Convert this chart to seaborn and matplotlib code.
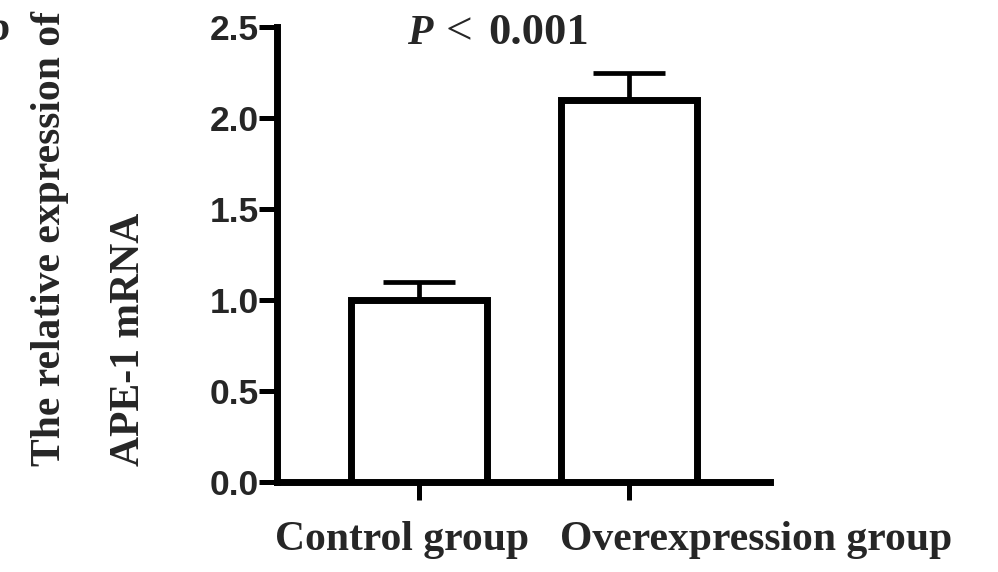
import matplotlib
matplotlib.use("Agg")
import matplotlib.pyplot as plt
import matplotlib.transforms as mtransforms
import seaborn as sns
import pandas as pd

# Data
groups = ["Control group", "Overexpression group"]
means = [1.0, 2.10]
sem = [0.10, 0.15]
y_ticks = [0.0, 0.5, 1.0, 1.5, 2.0, 2.5]
y_tick_labels = ["0.0", "0.5", "1.0", "1.5", "2.0", "2.5"]
y_label_lines = ["The relative expression of", "APE-1 mRNA"]
p_symbol = "P"
p_relation = "<"
p_value = "0.001"
panel_letter = "b"

sns.set_theme(style="ticks")
plt.rcParams["font.family"] = ["Liberation Serif", "DejaVu Serif"]

fig = plt.figure(figsize=(9.98, 5.72), dpi=100)
ax = fig.add_axes([0.2776, 0.1573, 0.494, 0.7955])

df = pd.DataFrame({"group": groups, "value": means})
sns.barplot(data=df, x="group", y="value", ax=ax, color="white",
            saturation=1, edgecolor="black", linewidth=5, width=0.65,
            errorbar=None, zorder=3)

# upper-only SEM whiskers, tucked behind the white bars
ax.errorbar(x=range(len(groups)), y=means, yerr=[[0] * len(sem), sem],
            fmt="none", ecolor="black", elinewidth=3.4, capsize=26,
            capthick=3.4, zorder=2)

ax.set_xlim(-0.676, 1.671)
ax.set_ylim(0, 2.5)
ax.set_yticks(y_ticks)
ax.set_yticklabels(y_tick_labels, fontfamily="Liberation Sans",
                   fontweight="bold", fontsize=25.5)
ax.set_xlabel("")

for side in ("top", "right"):
    ax.spines[side].set_visible(False)
for side in ("left", "bottom"):
    ax.spines[side].set_linewidth(5)
    ax.spines[side].set_color("black")

ax.tick_params(axis="y", length=13, width=3.6, pad=0, color="black")
ax.tick_params(axis="x", length=13, width=3.6, pad=15, color="black")

ax.set_xticks(range(len(groups)))
ax.set_xticklabels(groups, fontsize=30, fontweight="bold")
for lab, dx in zip(ax.get_xticklabels(), [-16.5, 127]):
    lab.set_transform(lab.get_transform() +
                      mtransforms.ScaledTranslation(dx / 100, 0, fig.dpi_scale_trans))

ax.set_ylabel("\n".join(y_label_lines), fontsize=30, fontweight="bold",
              linespacing=2.4, multialignment="left")
ax.yaxis.set_label_coords(-0.262, 0.535)


def shifted(px):
    """Axes transform nudged right by px pixels."""
    return ax.transAxes + mtransforms.ScaledTranslation(px / 100, 0, fig.dpi_scale_trans)


# significance note above the bars
p_x, p_y = 0.264, 0.962
ax.text(p_x, p_y, p_symbol, transform=shifted(0), fontsize=30,
        fontweight="bold", fontstyle="italic", ha="left", va="baseline")
ax.text(p_x, p_y, p_relation, transform=shifted(38), fontsize=34,
        ha="left", va="baseline")
ax.text(p_x, p_y, p_value, transform=shifted(81), fontsize=32,
        fontweight="bold", ha="left", va="baseline")

fig.text(-0.014, 0.93, panel_letter, fontsize=30, fontweight="bold",
         ha="left", va="baseline")

fig.savefig("out.png", dpi=100, facecolor="white")
